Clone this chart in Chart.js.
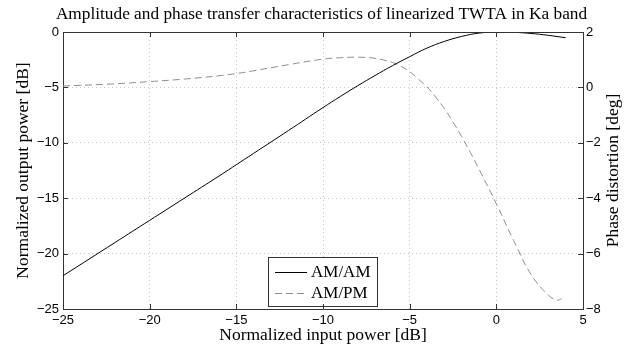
<!DOCTYPE html>
<html><head><meta charset="utf-8">
<script src="https://cdn.jsdelivr.net/npm/chart.js@4"></script>
<style>html,body{margin:0;padding:0;background:#fff}</style>
</head><body>
<canvas id="c" width="643" height="347"></canvas>
<script>
// ---- data ----
const amamInput  = [-25, -22, -20, -18, -16, -14, -12, -10, -9, -8, -7, -6, -5, -4, -3, -2, -1, 0, 1, 2, 3, 4];
const amamOutput = [-22, -19, -17, -15, -13, -10.95, -8.9, -6.82, -5.82, -4.85, -3.93, -3.05, -2.23, -1.45, -0.85, -0.4, -0.1, 0, -0.03, -0.13, -0.3, -0.52];
const ampmInput  = [-25, -22, -20, -18, -16, -15, -14, -12, -10, -9, -8, -7, -6, -5.5, -5, -4.5, -4, -3.5, -3, -2.5, -2, -1.5, -1, 0, 1, 2, 3, 3.5, 3.77];
const ampmPhase  = [0.05, 0.13, 0.21, 0.3, 0.42, 0.5, 0.6, 0.82, 1.02, 1.07, 1.09, 1.05, 0.9, 0.76, 0.57, 0.3, 0.02, -0.35, -0.76, -1.25, -1.78, -2.35, -2.95, -4.2, -5.53, -6.75, -7.5, -7.68, -7.63];
const xTicks  = [-25, -20, -15, -10, -5, 0, 5];
const yTicks  = [-25, -20, -15, -10, -5, 0];
const y1Ticks = [-8, -6, -4, -2, 0, 2];
const seriesLabels = ['AM/AM', 'AM/PM'];
const titleText = 'Amplitude and phase transfer characteristics of linearized TWTA in Ka band';
const xLabel = 'Normalized input power [dB]';
const yLabel = 'Normalized output power [dB]';
const y1Label = 'Phase distortion [deg]';

const toXY = (xs, ys) => xs.map((x, i) => ({x, y: ys[i]}));
const minus = v => String(v).replace('-', '\u2212');
const SERIF = '"Liberation Serif", "Times New Roman", serif';
const SANS = '"Liberation Sans", Arial, sans-serif';
const AXIS = '#333333';
const GRID = '#c4c4c4';

const framePlugin = {
  id: 'frame',
  afterDatasetsDraw(chart) {
    const {ctx, chartArea: a} = chart;
    // legend box inside plot area
    const bx = a.left + 205, by = a.bottom - 52, bw = 109, bh = 49;
    ctx.save();
    ctx.fillStyle = '#fff';
    ctx.fillRect(bx, by, bw, bh);
    ctx.strokeStyle = AXIS; ctx.lineWidth = 1;
    ctx.strokeRect(bx + 0.5, by + 0.5, bw, bh);
    chart.data.datasets.forEach((ds, i) => {
      const yy = by + 14.5 + i * 21.5;
      ctx.beginPath();
      ctx.strokeStyle = ds.borderColor;
      ctx.lineWidth = ds.borderWidth;
      ctx.setLineDash(ds.borderDash || []);
      ctx.moveTo(bx + 7, Math.round(yy) + 0.5);
      ctx.lineTo(bx + 39, Math.round(yy) + 0.5);
      ctx.stroke();
      ctx.setLineDash([]);
      ctx.fillStyle = '#000';
      ctx.font = '17px ' + SERIF;
      ctx.textAlign = 'left'; ctx.textBaseline = 'middle';
      ctx.fillText(ds.label, bx + 43, yy + 1);
    });
    ctx.restore();
  },
  afterDraw(chart) {
    const {ctx, chartArea: a, scales} = chart;
    const L = 5;
    ctx.save();
    ctx.strokeStyle = AXIS; ctx.lineWidth = 1;
    ctx.beginPath();
    ctx.moveTo(a.left, Math.round(a.top) + 0.5);
    ctx.lineTo(a.right, Math.round(a.top) + 0.5);
    scales.x.ticks.forEach(t => {
      const p = Math.round(scales.x.getPixelForValue(t.value)) + 0.5;
      ctx.moveTo(p, a.bottom); ctx.lineTo(p, a.bottom - L);
      ctx.moveTo(p, a.top); ctx.lineTo(p, a.top + L);
    });
    scales.y.ticks.forEach(t => {
      const p = Math.round(scales.y.getPixelForValue(t.value)) + 0.5;
      ctx.moveTo(a.left, p); ctx.lineTo(a.left + L, p);
    });
    scales.y1.ticks.forEach(t => {
      const p = Math.round(scales.y1.getPixelForValue(t.value)) + 0.5;
      ctx.moveTo(a.right, p); ctx.lineTo(a.right - L, p);
    });
    ctx.stroke();
    // right axis title, reading bottom-to-top
    ctx.translate(613, (a.top + a.bottom) / 2);
    ctx.rotate(-Math.PI / 2);
    ctx.font = '17.5px ' + SERIF;
    ctx.textAlign = 'center'; ctx.textBaseline = 'middle';
    ctx.fillStyle = '#000';
    ctx.fillText(y1Label, 0, 0);
    ctx.restore();
  }
};

new Chart(document.getElementById('c'), {
  type: 'line',
  data: {
    datasets: [
      {label: seriesLabels[0], data: toXY(amamInput, amamOutput), yAxisID: 'y',
       borderColor: '#000000', borderWidth: 1, pointRadius: 0, tension: 0.4, fill: false},
      {label: seriesLabels[1], data: toXY(ampmInput, ampmPhase), yAxisID: 'y1',
       borderColor: '#8c8c8c', borderWidth: 1, borderDash: [7, 4], pointRadius: 0, tension: 0.4, fill: false}
    ]
  },
  options: {
    responsive: false,
    animation: false,
    devicePixelRatio: 1,
    layout: {padding: 0},
    plugins: {
      legend: {display: false},
      tooltip: {enabled: false},
      title: {display: true, text: titleText, color: '#000',
              font: {family: SERIF, size: 17.3, weight: 'normal', lineHeight: 1.2},
              padding: {top: 4.5, bottom: 6.74}}
    },
    scales: {
      x: {
        type: 'linear', position: 'bottom', min: -25, max: 5,
        afterBuildTicks: s => { s.ticks = xTicks.map(v => ({value: v})); },
        afterFit: s => { s.height = 38; },
        ticks: {color: '#000', font: {family: SANS, size: 13}, padding: 4, maxRotation: 0, callback: minus},
        grid: {color: GRID, lineWidth: 1, drawTicks: false},
        border: {display: true, color: AXIS, width: 1, dash: [1, 3]},
        title: {display: true, text: xLabel, color: '#000', font: {family: SERIF, size: 17.5, lineHeight: 1.2}, padding: {top: 0, bottom: 1}}
      },
      y: {
        type: 'linear', position: 'left', min: -25, max: 0,
        afterBuildTicks: s => { s.ticks = yTicks.map(v => ({value: v})); },
        afterFit: s => { s.width = 63; },
        ticks: {color: '#000', font: {family: SANS, size: 13}, padding: 4, callback: minus},
        grid: {color: GRID, lineWidth: 1, drawTicks: false},
        border: {display: true, color: AXIS, width: 1, dash: [1, 3]},
        title: {display: true, text: yLabel, color: '#000', font: {family: SERIF, size: 17.5, lineHeight: 1.2}, padding: {top: 12.5, bottom: 0}}
      },
      y1: {
        type: 'linear', position: 'right', min: -8, max: 2,
        afterBuildTicks: s => { s.ticks = y1Ticks.map(v => ({value: v})); },
        afterFit: s => { s.width = 60; },
        ticks: {color: '#000', font: {family: SANS, size: 13}, padding: 3, callback: minus},
        grid: {display: false, drawTicks: false},
        border: {display: true, color: AXIS, width: 1}
      }
    }
  },
  plugins: [framePlugin]
});
</script>
</body></html>
